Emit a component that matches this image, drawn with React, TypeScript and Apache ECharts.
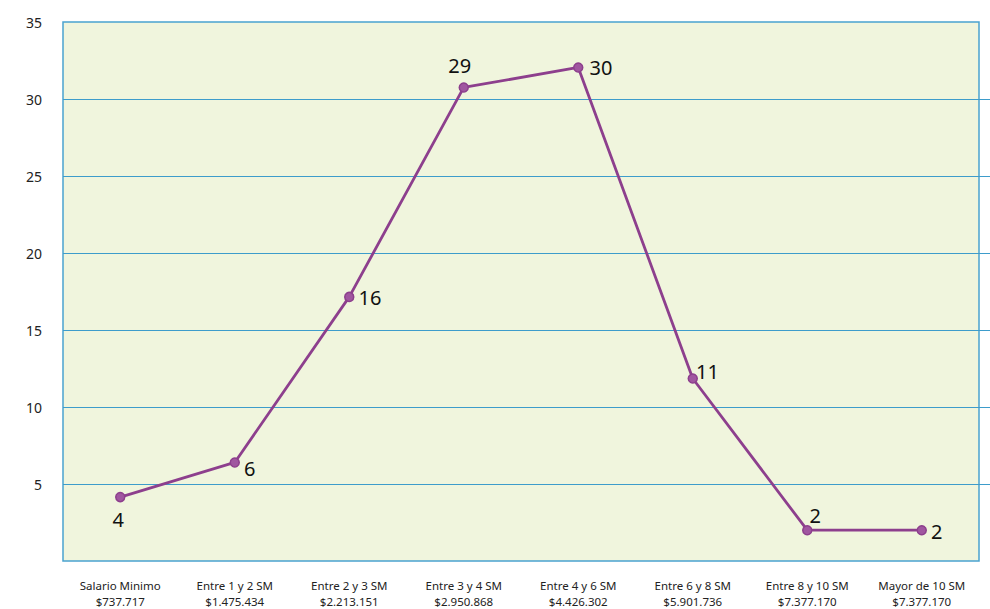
import React, { useEffect, useRef } from "react";
import * as echarts from "echarts";

const categories = [
  "Salario Minimo\n$737.717",
  "Entre 1 y 2 SM\n$1.475.434",
  "Entre 2 y 3 SM\n$2.213.151",
  "Entre 3 y 4 SM\n$2.950.868",
  "Entre 4 y 6 SM\n$4.426.302",
  "Entre 6 y 8 SM\n$5.901.736",
  "Entre 8 y 10 SM\n$7.377.170",
  "Mayor de 10 SM\n$7.377.170",
];
const plottedValues = [4.15, 6.4, 17.15, 30.75, 32.05, 11.85, 2.0, 2.0];
const pointLabels = ["4", "6", "16", "29", "30", "11", "2", "2"];
const yTicks = [0, 5, 10, 15, 20, 25, 30, 35];

const labelPlacement: { position: string; offset: [number, number] }[] = [
  { position: "bottom", offset: [-2, 2] },
  { position: "right", offset: [-1, 6] },
  { position: "right", offset: [-1, 1] },
  { position: "top", offset: [-4, -2] },
  { position: "right", offset: [1, 0] },
  { position: "right", offset: [-7, -7] },
  { position: "right", offset: [-8, -15] },
  { position: "right", offset: [-1, 1] },
];

const FONT = "'Noto Sans', sans-serif";
const GRID_COLOR = "#3d9ccb";

export default function App() {
  const ref = useRef<HTMLDivElement>(null);
  useEffect(() => {
    if (!ref.current) return;
    const chart = echarts.init(ref.current, undefined, { renderer: "svg" });
    const lineColors = yTicks.map((_, i) =>
      i === 0 || i === yTicks.length - 1 ? "rgba(0,0,0,0)" : GRID_COLOR
    );
    chart.setOption({
      animation: false,
      backgroundColor: "#ffffff",
      grid: [
        {
          left: 63,
          right: 11,
          top: 22,
          bottom: 48,
          show: true,
          backgroundColor: "#f0f5dd",
          borderColor: "#4aa3cf",
          borderWidth: 1.5,
        },
        { left: 63, right: 0, top: 22, bottom: 48, show: false },
      ],
      xAxis: [
        {
          type: "category",
          gridIndex: 0,
          data: categories,
          boundaryGap: true,
          axisLine: { show: false },
          axisTick: { show: false },
          axisLabel: {
            color: "#222",
            fontFamily: FONT,
            fontSize: 11.5,
            lineHeight: 16,
            margin: 16,
            interval: 0,
          },
        },
        {
          type: "category",
          gridIndex: 1,
          data: categories,
          show: false,
        },
      ],
      yAxis: [
        {
          type: "value",
          gridIndex: 0,
          min: 0,
          max: 35,
          interval: 5,
          axisLine: { show: false },
          axisTick: { show: false },
          splitLine: { show: false },
          axisLabel: {
            color: "#222",
            fontFamily: FONT,
            fontSize: 14,
            margin: 21,
            showMinLabel: false,
          },
        },
        {
          type: "value",
          gridIndex: 1,
          min: 0,
          max: 35,
          interval: 5,
          axisLine: { show: false },
          axisTick: { show: false },
          axisLabel: { show: false },
          splitLine: { show: true, lineStyle: { color: lineColors, width: 1.2 } },
        },
      ],
      series: [
        {
          type: "line",
          xAxisIndex: 0,
          yAxisIndex: 0,
          data: plottedValues.map((v, i) => ({
            value: v,
            label: {
              show: true,
              formatter: pointLabels[i],
              position: labelPlacement[i].position,
              offset: labelPlacement[i].offset,
              color: "#111",
              fontFamily: FONT,
              fontSize: 20,
            },
          })),
          lineStyle: { color: "#8d3f8d", width: 2.8 },
          symbol: "circle",
          symbolSize: 9,
          itemStyle: { color: "#a056a0", borderColor: "#8d3f8d", borderWidth: 1.5 },
          z: 5,
        },
      ],
    });
    return () => chart.dispose();
  }, []);
  return (
    <div
      ref={ref}
      style={{ position: "absolute", left: 0, top: 0, width: 990, height: 609 }}
    />
  );
}
